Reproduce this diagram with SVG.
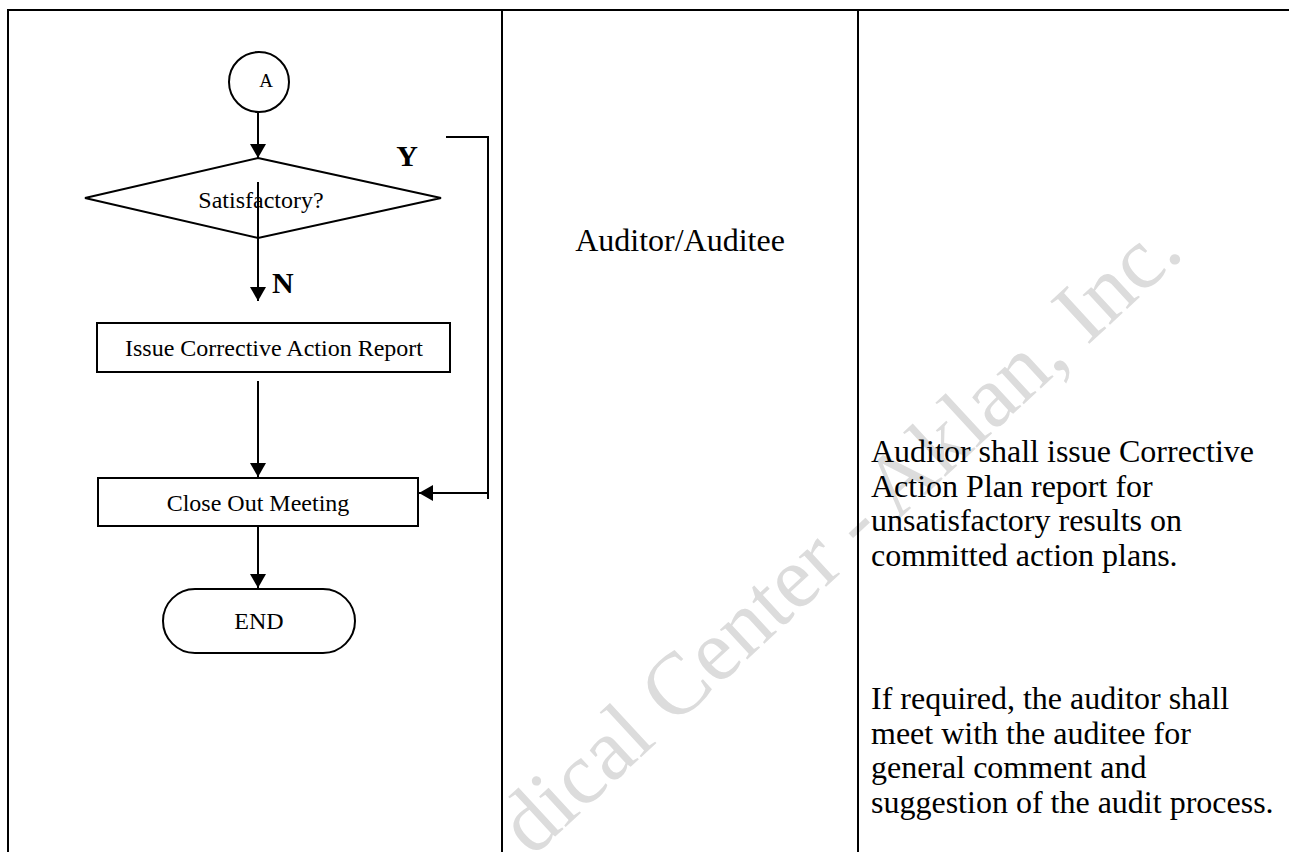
<svg xmlns="http://www.w3.org/2000/svg" width="1289" height="852" viewBox="0 0 1289 852">
  <style>
    .ln { stroke: #000; stroke-width: 2; fill: none; }
    .shape { stroke: #000; stroke-width: 2; fill: #fff; }
    .t { font-family: "Liberation Serif", "Times New Roman", serif; fill: #000; }
    .sm { font-size: 24px; }
    .lg { font-size: 32px; }
    .b { font-size: 30px; font-weight: bold; }
    .wm { font-family: "Liberation Serif", "Times New Roman", serif; font-size: 88px; fill: #dcdcdc; }
  </style>
  <defs>
    <marker id="arr" markerUnits="userSpaceOnUse" markerWidth="15" markerHeight="16" refX="14" refY="8" orient="auto">
      <path d="M0,0 L14,8 L0,16 Z" fill="#000"/>
    </marker>
  </defs>
  <rect width="1289" height="852" fill="#fff"/>

  <g id="watermark">
    <text class="wm" transform="translate(532,858) rotate(-42.7)">dical Center - Aklan, Inc.</text>
  </g>

  <g id="table" class="ln">
    <line x1="8" y1="10" x2="1289" y2="10"/>
    <line x1="8" y1="9" x2="8" y2="852"/>
    <line x1="502" y1="10" x2="502" y2="852"/>
    <line x1="858" y1="10" x2="858" y2="852"/>
  </g>

  <g id="connectors">
    <line class="ln" x1="258" y1="112" x2="258" y2="158" marker-end="url(#arr)"/>
    <line class="ln" x1="258" y1="182" x2="258" y2="301" marker-end="url(#arr)"/>
    <line class="ln" x1="258" y1="381" x2="258" y2="477" marker-end="url(#arr)"/>
    <line class="ln" x1="258" y1="526" x2="258" y2="588" marker-end="url(#arr)"/>
    <path class="ln" d="M446,137 H488 V499"/>
    <line class="ln" x1="488" y1="493" x2="419" y2="493" marker-end="url(#arr)"/>
  </g>

  <g id="node-a">
    <circle class="shape" cx="259" cy="82" r="30"/>
    <text class="t" x="266" y="87" font-size="19" text-anchor="middle">A</text>
  </g>

  <g id="node-satisfactory">
    <polygon class="ln" points="258,158 441,198 258,238 85,198"/>
    <line class="ln" x1="258" y1="182" x2="258" y2="238"/>
    <text class="t sm" x="261" y="208" text-anchor="middle">Satisfactory?</text>
  </g>

  <g id="label-y">
    <text class="t b" x="407" y="166" text-anchor="middle">Y</text>
  </g>
  <g id="label-n">
    <text class="t b" x="272" y="293">N</text>
  </g>

  <g id="node-issue">
    <rect class="shape" x="97" y="323" width="353" height="49"/>
    <text class="t sm" x="274" y="356" text-anchor="middle">Issue Corrective Action Report</text>
  </g>

  <g id="node-close">
    <rect class="shape" x="98" y="478" width="320" height="48"/>
    <text class="t sm" x="258" y="511" text-anchor="middle">Close Out Meeting</text>
  </g>

  <g id="node-end">
    <rect class="shape" x="163" y="589" width="192" height="64" rx="32" ry="32"/>
    <text class="t sm" x="259" y="629" text-anchor="middle">END</text>
  </g>

  <g id="responsible">
    <text class="t lg" x="680" y="251" text-anchor="middle">Auditor/Auditee</text>
  </g>

  <g id="description">
    <text class="t lg" x="871" y="462">Auditor shall issue Corrective</text>
    <text class="t lg" x="871" y="496.5">Action Plan report for</text>
    <text class="t lg" x="871" y="531">unsatisfactory results on</text>
    <text class="t lg" x="871" y="565.5">committed action plans.</text>
    <text class="t lg" x="871" y="709">If required, the auditor shall</text>
    <text class="t lg" x="871" y="743.5">meet with the auditee for</text>
    <text class="t lg" x="871" y="778">general comment and</text>
    <text class="t lg" x="871" y="812.5">suggestion of the audit process.</text>
  </g>
</svg>
